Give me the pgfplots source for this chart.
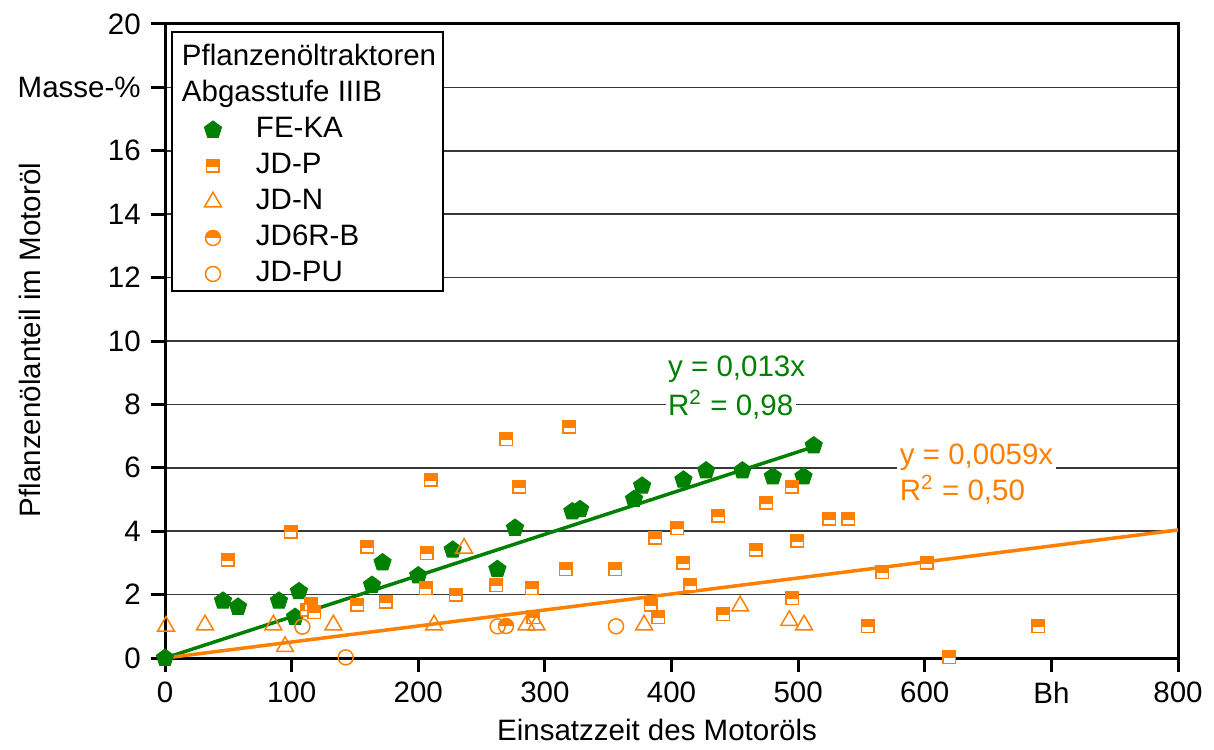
\documentclass[border=0pt]{standalone}
\usepackage{fontspec}
\setmainfont{Liberation Sans}
\usepackage{pgfplots}
\pgfplotsset{compat=1.18}
\usetikzlibrary{plotmarks}
\definecolor{cgreen}{RGB}{0,128,0}
\definecolor{corange}{RGB}{255,128,0}
\pgfdeclareplotmark{tophalfsquare}{%
  \pgfpathrectangle{\pgfpoint{-\pgfplotmarksize}{-0.15\pgfplotmarksize}}{\pgfpoint{2\pgfplotmarksize}{1.15\pgfplotmarksize}}%
  \pgfusepathqfill
  \begin{pgfscope}
  \pgfsetfillcolor{white}%
  \pgfpathrectangle{\pgfpoint{-\pgfplotmarksize}{-\pgfplotmarksize}}{\pgfpoint{2\pgfplotmarksize}{0.85\pgfplotmarksize}}%
  \pgfusepathqfill
  \end{pgfscope}
  \pgfpathrectangle{\pgfpoint{-\pgfplotmarksize}{-\pgfplotmarksize}}{\pgfpoint{2\pgfplotmarksize}{2\pgfplotmarksize}}%
  \pgfusepathqstroke
}
\pgfdeclareplotmark{tophalfcircle}{%
  \pgfpathmoveto{\pgfpoint{\pgfplotmarksize}{0pt}}%
  \pgfpatharc{0}{180}{\pgfplotmarksize}%
  \pgfpathclose
  \pgfusepathqfill
  \pgfpathcircle{\pgfpointorigin}{\pgfplotmarksize}%
  \pgfusepathqstroke
}
\begin{document}
\fontsize{11.8pt}{14pt}\selectfont
\begin{tikzpicture}
\begin{axis}[name=ax,
  scale only axis, width=405.2pt, height=253.6pt,
  xmin=0, xmax=800, ymin=0, ymax=20,
  xtick={0,100,...,800}, xticklabels={0,100,200,300,400,500,600,Bh,800},
  ytick={0,2,...,20}, yticklabels={0,2,4,6,8,10,12,14,16,Masse-\%,20},
  /pgf/number format/assume math mode=true,
  tick align=outside, tick pos=left, major tick length=5.6pt,
  every tick/.style={black, line width=1.2pt},
  axis line style={line width=1.2pt},
  ymajorgrids, grid style={black!78, line width=0.65pt},
  xlabel={Einsatzzeit des Motoröls},
  ylabel={Pflanzenölanteil im Motoröl},
  xlabel style={at={(axis description cs:0.4857,-0.1136)}, anchor=center},
  ylabel style={at={(axis description cs:-0.1333,0.5016)}, anchor=center},
  legend image code/.code={\path (-16pt,0pt) (16.8pt,0pt); \draw[#1] plot coordinates {(0pt,0pt)};},
  legend cell align=left,
  legend style={at={(rel axis cs:0.0059,0.989)}, anchor=north west, draw=black, line width=0.8pt, fill=white,
    inner xsep=0pt, inner ysep=1pt, row sep=2.4pt,
    nodes={inner sep=0pt, text height=9pt, text depth=3pt}},
]
\addlegendimage{legend image code/.code={\path (0pt,-3pt) (0pt,9pt);}}
\addlegendentry{\hspace{-29.6pt}Pflanzenöltraktoren\rule{2.6pt}{0pt}}
\addlegendimage{empty legend}
\addlegendentry{\hspace{-29.6pt}Abgasstufe IIIB}

\addplot[only marks, mark=pentagon*, mark size=3.6pt, color=cgreen, mark options={fill=cgreen, draw=cgreen, line width=0.4pt}]
coordinates {(0,0) (45.8,1.80) (57.7,1.61) (90,1.80) (102.7,1.29) (105.8,2.10) (163.5,2.30) (171.8,3.01)
(200,2.60) (227.2,3.41) (262.5,2.80) (276.4,4.10) (321.7,4.62) (327.8,4.69) (370.4,5.01) (376.8,5.43)
(409.4,5.62) (427.3,5.91) (456,5.91) (480,5.72) (504.2,5.72) (512.3,6.70)};
\addlegendentry{FE-KA}

\addplot[only marks, mark=tophalfsquare, mark size=2.5pt, color=corange, mark options={fill=corange, draw=corange, line width=0.6pt}]
coordinates {(49.5,3.10) (99.5,3.99) (112,1.52) (115,1.70) (118,1.45) (151.7,1.68) (159.8,3.51) (174.3,1.78)
(205.8,2.20) (206.6,3.31) (209.8,5.62) (229.5,1.99) (261.5,2.30) (269.6,6.90) (279.6,5.40) (289.6,2.20)
(290.9,1.28) (316.4,2.80) (319.4,7.30) (355.5,2.80) (383.6,1.68) (387,3.79) (389.6,1.29) (404.7,4.10)
(409.4,3.00) (414.7,2.31) (437.1,4.48) (441,1.38) (466.4,3.41) (475,4.90) (495,5.40) (495.5,1.89)
(499.4,3.70) (524.7,4.39) (539.7,4.39) (554.8,1.00) (566.6,2.70) (601.6,3.01) (619.5,0.03) (689.8,1.00)};
\addlegendentry{JD-P}

\addplot[only marks, mark=triangle, mark size=3.9pt, color=corange, mark options={draw=corange, line width=0.6pt}]
coordinates {(0.8,1.0) (31.6,1.04) (85.6,1.04) (94.8,0.36) (133,1.04) (212.5,1.04) (236.2,3.46) (285.5,1.04)
(293.4,1.04) (378.4,1.04) (454.2,1.64) (493,1.18) (504.7,1.04)};
\addlegendentry{JD-N}

\addplot[only marks, mark=tophalfcircle, mark size=3pt, color=corange, mark options={fill=corange, draw=corange, line width=0.6pt}]
coordinates {(269.3,1.01)};
\addlegendentry{JD6R-B}

\addplot[only marks, mark=o, mark size=3pt, color=corange, mark options={draw=corange, line width=0.6pt}]
coordinates {(108.5,0.99) (142.7,0.02) (262.7,1.0) (356.2,1.0)};
\addlegendentry{JD-PU}

\addplot[cgreen, line width=1.4pt, forget plot] coordinates {(0,0) (512,6.66)};
\addplot[corange, line width=1.4pt, forget plot] coordinates {(0,0) (800,4.04)};

\node[anchor=west, text=cgreen, fill=white, inner sep=1pt] at (axis cs:395,9.1) {y = 0,013x};
\node[anchor=west, text=cgreen, fill=white, inner sep=1pt] at (axis cs:395,8.0) {R\textsuperscript{2} = 0,98};
\node[anchor=west, text=corange, fill=white, inner sep=1pt] at (axis cs:578,6.34) {y = 0,0059x};
\node[anchor=west, text=corange, fill=white, inner sep=1pt] at (axis cs:578,5.3) {R\textsuperscript{2} = 0,50};
\end{axis}
\pgfresetboundingbox
\path[use as bounding box] ([xshift=-66pt,yshift=-36.4pt]ax.south west) rectangle ([xshift=14.4pt,yshift=9.6pt]ax.north east);
\end{tikzpicture}
\end{document}
